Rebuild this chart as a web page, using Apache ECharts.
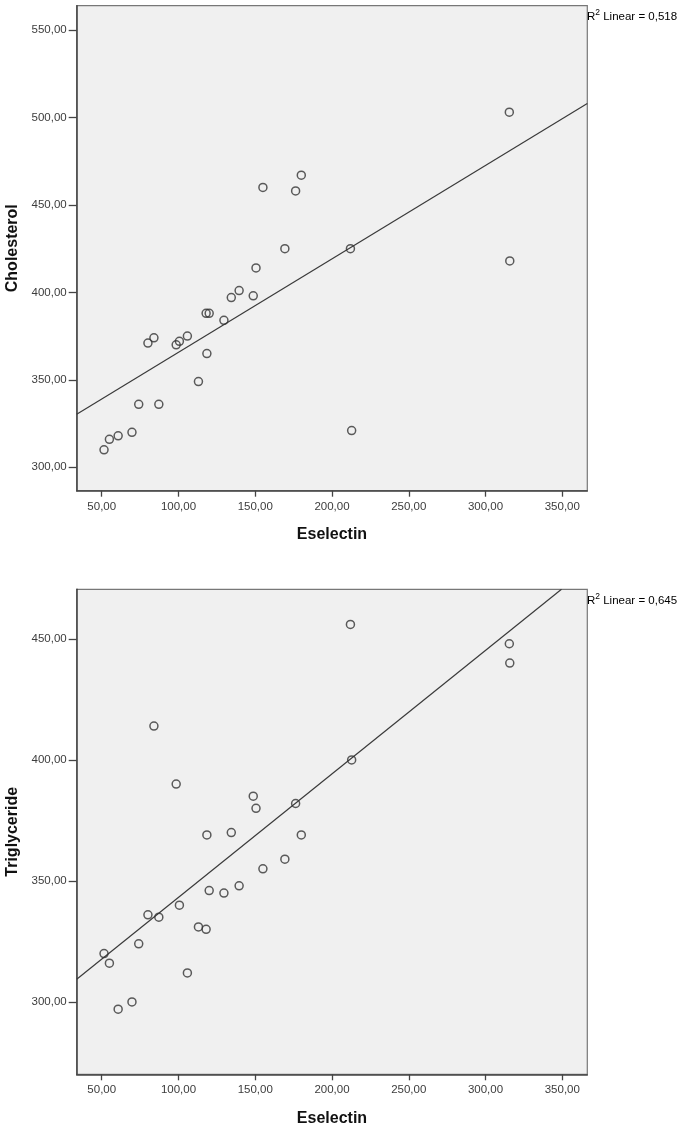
<!DOCTYPE html>
<html>
<head>
<meta charset="utf-8">
<script src="https://cdn.jsdelivr.net/npm/echarts@6/dist/echarts.min.js"></script>
<style>
html,body{margin:0;padding:0;background:#fff;}
#chart{width:685px;height:1126px;}
</style>
</head>
<body>
<div id="chart"></div>
<script>
// ---- data ----
const eselectin    = [51.5, 55, 60.7, 69.7, 74.1, 80.1, 84, 87.2, 98.5, 100.6, 105.8, 113, 118, 118.5, 120, 129.6, 134.4, 139.5, 148.7, 150.5, 155, 169.3, 176.3, 180, 212, 212.8, 315.5, 315.8];
const cholesterol  = [310, 316, 318, 320, 336, 371, 374, 336, 370, 372, 375, 349, 388, 365, 388, 384, 397, 401, 398, 414, 460, 425, 458, 467, 425, 321, 503, 418];
const triglyceride = [320, 316, 297, 300, 324, 336, 414, 335, 390, 340, 312, 331, 330, 369, 346, 345, 370, 348, 385, 380, 355, 359, 382, 369, 456, 400, 448, 440];
// fit-line endpoints
const cholFitLine = [[33.7, 330.3], [366.3, 508.0]];
const trigFitLine = [[33.7, 309.4], [349.5, 470.5]];
const cholR2 = '0,518';
const trigR2 = '0,645';
// axis ranges and ticks
const xRange = [33.7, 366.3];
const cholRange = [286.6, 563.9];
const trigRange = [270.1, 470.5];
const xTicks = [50, 100, 150, 200, 250, 300, 350];
const cholTicks = [300, 350, 400, 450, 500, 550];
const trigTicks = [300, 350, 400, 450];

const fmt = v => Number(v).toFixed(2).replace('.', ',');
const FONT = '"Liberation Sans", Arial, sans-serif';

function xAxisCfg(gi) {
  return {
    type: 'value', gridIndex: gi, min: xRange[0], max: xRange[1],
    name: 'Eselectin', nameLocation: 'middle', nameGap: 36,
    nameTextStyle: {fontFamily: FONT, fontSize: 16, fontWeight: 'bold', color: '#111'},
    axisLine: {show: true, lineStyle: {color: '#444', width: 1.5}},
    axisTick: {show: true, length: 6, customValues: xTicks, lineStyle: {color: '#444', width: 1.3}},
    axisLabel: {customValues: xTicks, formatter: fmt, margin: 10, fontFamily: FONT, fontSize: 11.5, color: '#3c3c3c'},
    splitLine: {show: false}
  };
}
function yAxisCfg(gi, name, range, ticks) {
  return {
    type: 'value', gridIndex: gi, min: range[0], max: range[1],
    name: name, nameLocation: 'middle', nameGap: 55,
    nameTextStyle: {fontFamily: FONT, fontSize: 16, fontWeight: 'bold', color: '#111'},
    axisLine: {show: true, lineStyle: {color: '#444', width: 1.5}},
    axisTick: {show: true, length: 8, customValues: ticks, lineStyle: {color: '#444', width: 1.3}},
    axisLabel: {customValues: ticks, formatter: fmt, margin: 10, fontFamily: FONT, fontSize: 11.5, color: '#3c3c3c'},
    splitLine: {show: false}
  };
}
function scatterCfg(gi, ys) {
  return {
    type: 'scatter', xAxisIndex: gi, yAxisIndex: gi,
    data: eselectin.map((x, i) => [x, ys[i]]),
    symbol: 'circle', symbolSize: 8,
    itemStyle: {color: 'rgba(0,0,0,0)', borderColor: '#333', borderWidth: 1.5},
    silent: true, z: 3
  };
}
function lineCfg(gi, pts) {
  return {
    type: 'line', xAxisIndex: gi, yAxisIndex: gi, data: pts,
    showSymbol: false, symbol: 'none',
    lineStyle: {color: '#3a3a3a', width: 1.2}, silent: true, z: 2, clip: true
  };
}
function r2Text(top, val) {
  return {
    type: 'text', left: 587, top: top,
    style: {
      text: '{a|R}{s|2}{a| Linear = ' + val + '}',
      rich: {
        a: {fontFamily: FONT, fontSize: 11.5, color: '#222', lineHeight: 15, verticalAlign: 'bottom'},
        s: {fontFamily: FONT, fontSize: 8.5, color: '#222', lineHeight: 15, verticalAlign: 'top'}
      }
    }
  };
}

const chart = echarts.init(document.getElementById('chart'), null, {renderer: 'canvas'});
chart.setOption({
  animation: false,
  backgroundColor: '#ffffff',
  grid: [
    {left: 76.7, top: 5.7, width: 510.6, height: 485, containLabel: false, outerBoundsMode: 'none', show: true, backgroundColor: '#f0f0f0', borderColor: '#777', borderWidth: 1.2},
    {left: 76.7, top: 589.3, width: 510.6, height: 485, containLabel: false, outerBoundsMode: 'none', show: true, backgroundColor: '#f0f0f0', borderColor: '#777', borderWidth: 1.2}
  ],
  xAxis: [xAxisCfg(0), xAxisCfg(1)],
  yAxis: [yAxisCfg(0, 'Cholesterol', cholRange, cholTicks), yAxisCfg(1, 'Triglyceride', trigRange, trigTicks)],
  series: [
    lineCfg(0, cholFitLine), scatterCfg(0, cholesterol),
    lineCfg(1, trigFitLine), scatterCfg(1, triglyceride)
  ],
  graphic: [r2Text(8, cholR2), r2Text(592, trigR2)]
});
</script>
</body>
</html>
